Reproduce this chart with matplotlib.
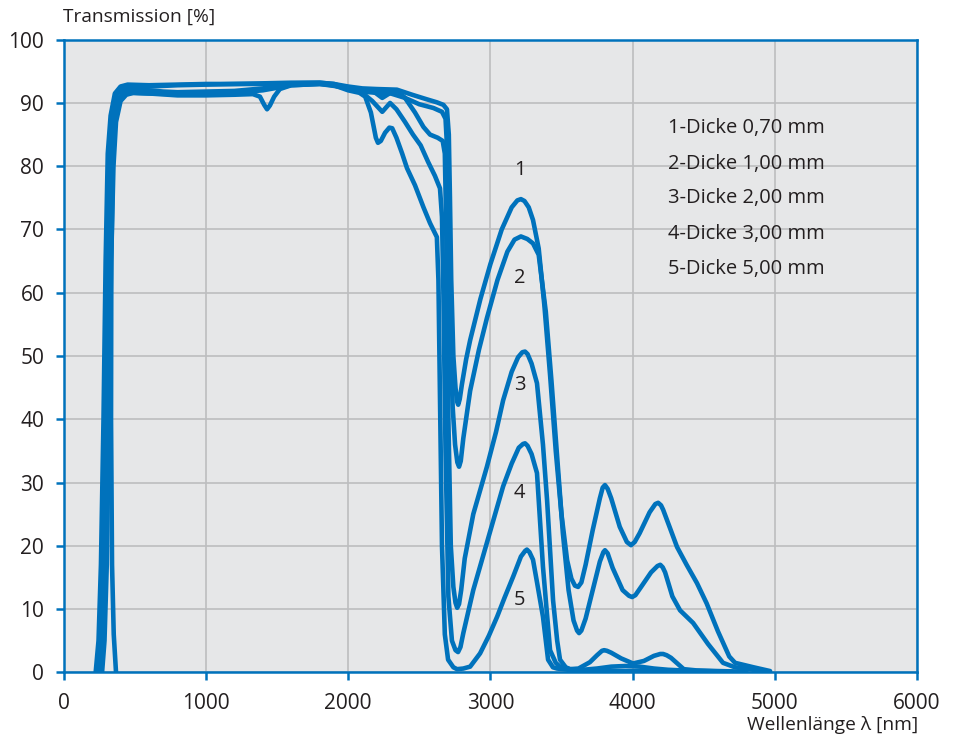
import numpy as np
import matplotlib.pyplot as plt

# --------------------------------------------------
# Transmission curves (wavelength in nm, T in %)
# --------------------------------------------------

WL_1 = [225, 245, 262, 280, 295, 310, 330, 360, 400, 450, 600, 800, 1000,
        1200, 1400, 1600, 1800, 1900, 2000, 2100, 2200, 2343, 2450, 2550,
        2624, 2670, 2695, 2708, 2716, 2725, 2740, 2755, 2766, 2774, 2785,
        2800, 2830, 2858, 2930, 3000, 3080, 3150, 3190, 3215, 3240, 3270,
        3300, 3340, 3380, 3420, 3460, 3500, 3540, 3570, 3595, 3617, 3640,
        3670, 3720, 3770, 3790, 3806, 3825, 3850, 3910, 3960, 3989, 4015,
        4050, 4120, 4160, 4180, 4200, 4215, 4260, 4313, 4380, 4453, 4521,
        4600, 4680, 4721, 4850, 4967]
T_1 = [0, 5, 17, 40, 65, 82, 88, 91.5, 92.6, 92.9, 92.8, 92.9, 93.0,
       93.0, 93.1, 93.2, 93.2, 93.0, 92.6, 92.3, 92.2, 92.1, 91.3, 90.6,
       90.1, 89.7, 89.0, 85, 75, 62, 50, 45, 42.8, 42.3, 43.2,
       45.5, 49.5, 52.5, 59, 64.5, 70, 73.5, 74.6, 74.8, 74.5, 73.5,
       71.5, 67, 58, 47, 35, 25, 17.7, 14.8, 13.7, 13.5, 14.2,
       17, 22.5, 27.5, 29.2, 29.6, 29.0, 27.5, 23, 20.6, 20.1, 20.6,
       22, 25.3, 26.6, 26.8, 26.4, 25.7, 23, 19.8, 17, 14.1, 10.9,
       6.5, 2.5, 1.5, 0.8, 0.2]

WL_2 = [240, 258, 275, 292, 308, 322, 340, 370, 410, 460, 600, 800, 1000,
        1200, 1400, 1600, 1800, 1900, 2000, 2100, 2200, 2300, 2400, 2500,
        2600, 2660, 2685, 2698, 2707, 2718, 2735, 2752, 2768, 2780, 2792,
        2810, 2858, 2920, 2976, 3050, 3120, 3170, 3215, 3260, 3300, 3340,
        3390, 3430, 3470, 3510, 3550, 3585, 3610, 3624, 3640, 3670, 3720,
        3770, 3795, 3806, 3825, 3860, 3930, 3975, 3997, 4020, 4060, 4130,
        4175, 4195, 4212, 4229, 4280, 4334, 4426, 4530, 4636, 4720, 4850,
        4960]
T_2 = [0, 5, 17, 40, 65, 82, 88, 91.2, 92.4, 92.7, 92.6, 92.8, 92.9,
       93.0, 93.0, 93.1, 93.2, 93.0, 92.3, 91.8, 91.6, 91.5, 90.8, 89.8,
       89.2, 88.6, 87.5, 82, 70, 55, 42, 36, 33.2, 32.5, 33.4,
       37, 44.5, 51, 56, 62, 66.5, 68.4, 68.9, 68.5, 67.8, 66,
       57, 46, 34, 22, 13, 8.2, 6.6, 6.2, 6.6, 8.5, 13,
       17.5, 19.0, 19.3, 18.8, 16.5, 13, 12.1, 11.9, 12.2, 13.5, 15.8,
       16.8, 17.0, 16.6, 15.8, 12, 9.8, 7.8, 4.5, 1.5, 0.8, 0.4,
       0.1]

WL_3 = [255, 272, 290, 305, 322, 338, 355, 385, 425, 480, 600, 700, 800,
        1000, 1200, 1400, 1600, 1800, 1900, 2000, 2100, 2180, 2240, 2290,
        2343, 2400, 2470, 2530, 2576, 2630, 2665, 2680, 2690, 2705, 2722,
        2740, 2755, 2767, 2780, 2795, 2820, 2880, 2976, 3040, 3090, 3150,
        3195, 3225, 3244, 3262, 3290, 3328, 3370, 3399, 3441, 3470, 3490,
        3530, 3560, 3620, 3700, 3750, 3785, 3800, 3820, 3850, 3920, 4003,
        4080, 4150, 4195, 4215, 4240, 4270, 4320, 4360, 4450, 4600, 4800]
T_3 = [0, 5, 17, 40, 65, 80, 87, 90.5, 91.9, 92.2, 92.0, 91.8, 91.7,
       91.8, 91.9, 92.3, 93.0, 93.1, 92.8, 92.3, 92.0, 91.8, 90.8, 91.5,
       92.0, 90.8, 88.5, 86.2, 85.0, 84.5, 84.0, 82, 70, 40, 20,
       13.5, 11, 10.2, 10.8, 13, 18, 25, 32.5, 38, 43, 47.5,
       49.8, 50.6, 50.7, 50.3, 48.8, 45.7, 36, 27.2, 11.4, 5, 2,
       0.8, 0.5, 0.6, 1.6, 2.7, 3.4, 3.5, 3.4, 3.1, 2.2, 1.4,
       1.8, 2.6, 2.9, 2.9, 2.7, 2.3, 1.3, 0.5, 0.3, 0.2, 0.1]

WL_4 = [270, 287, 303, 318, 334, 350, 368, 400, 440, 490, 600, 800, 1000,
        1200, 1400, 1600, 1800, 1900, 2000, 2100, 2170, 2240, 2295, 2340,
        2400, 2456, 2510, 2562, 2610, 2646, 2660, 2670, 2685, 2705, 2730,
        2755, 2773, 2790, 2810, 2880, 2976, 3040, 3090, 3150, 3200, 3230,
        3244, 3262, 3290, 3328, 3370, 3420, 3460, 3490, 3560, 3650, 3750,
        3850, 3950, 4050, 4150, 4250, 4350, 4500, 4700]
T_4 = [0, 5, 17, 40, 65, 80, 87, 90.3, 91.3, 91.6, 91.5, 91.4, 91.5,
       91.6, 92.0, 92.8, 93.0, 92.7, 92.3, 91.6, 90.3, 88.6, 90.0, 89.0,
       87.0, 85.0, 83.3, 80.7, 78.5, 76.5, 72, 60, 35, 12, 5,
       3.5, 3.2, 4, 6.2, 13, 20.5, 25.5, 29.4, 33, 35.5, 36.1,
       36.2, 35.8, 34.5, 31.5, 16.7, 3.5, 1.5, 0.9, 0.5, 0.4, 0.6,
       0.9, 1.0, 0.9, 0.6, 0.4, 0.3, 0.2, 0.1]

WL_5 = [368, 352, 340, 333, 335, 345, 360, 385, 420, 480, 600, 800, 1000,
        1200, 1330, 1380, 1410, 1430, 1450, 1480, 1520, 1600, 1800, 1900,
        2000, 2080, 2120, 2160, 2195, 2210, 2230, 2260, 2290, 2310, 2340,
        2380, 2414, 2470, 2530, 2576, 2624, 2635, 2645, 2660, 2680, 2703,
        2740, 2766, 2810, 2858, 2928, 2990, 3048, 3100, 3160, 3215, 3245,
        3257, 3275, 3300, 3330, 3370, 3406, 3440, 3469, 3550, 3700, 3900,
        4100, 4300]
T_5 = [0, 6, 17, 40, 65, 80, 87, 90.5, 91.4, 91.6, 91.5, 91.2, 91.2,
       91.3, 91.4, 91.0, 89.7, 89.0, 89.6, 91.0, 92.2, 92.8, 93.0, 92.8,
       92.0, 91.6, 91.0, 88.5, 84.5, 83.7, 84.0, 85.3, 86.1, 86.0, 84.5,
       82, 79.7, 77, 73.5, 71, 68.8, 62, 45, 20, 6, 2,
       0.8, 0.5, 0.6, 0.9, 3, 5.8, 8.8, 11.8, 15.1, 18.3, 19.2,
       19.4, 19.0, 17.8, 14, 8.8, 2, 0.8, 0.6, 0.4, 0.3, 0.2,
       0.2, 0.1]

CURVES = [(WL_1, T_1), (WL_2, T_2), (WL_3, T_3), (WL_4, T_4), (WL_5, T_5)]

# curve numbers placed next to the IR peaks
NUM_LABELS = ["1", "2", "3", "4", "5"]
NUM_X = [3205, 3205, 3205, 3205, 3205]
NUM_Y = [79.4, 62.3, 45.4, 28.3, 11.4]

LEGEND_LINES = [
    "1-Dicke 0,70 mm",
    "2-Dicke 1,00 mm",
    "3-Dicke 2,00 mm",
    "4-Dicke 3,00 mm",
    "5-Dicke 5,00 mm",
]
LEGEND_X = 4250
LEGEND_Y = [86.0, 80.4, 74.9, 69.3, 63.8]

X_TICKS = [0, 1000, 2000, 3000, 4000, 5000, 6000]
Y_TICKS = [0, 10, 20, 30, 40, 50, 60, 70, 80, 90, 100]

# --------------------------------------------------
# Style
# --------------------------------------------------

BLUE = "#0072bc"
TEXT = "#231f20"
GRID = "#bcbdbf"
BG = "#e6e7e8"

plt.rcParams["font.family"] = ["Open Sans", "DejaVu Sans"]

fig = plt.figure(figsize=(9.59, 7.42), dpi=100)
ax = fig.add_axes([0.0664, 0.0939, 0.8898, 0.8526])
ax.set_facecolor(BG)

for wl, t in CURVES:
    ax.plot(
        wl,
        t,
        color=BLUE,
        linewidth=3.3,
        solid_joinstyle="round",
        solid_capstyle="round",
        zorder=3
    )

for lab, x, y in zip(NUM_LABELS, NUM_X, NUM_Y):
    ax.text(x, y, lab, fontsize=14.5, color=TEXT,
            ha="center", va="center", zorder=4)

for line, y in zip(LEGEND_LINES, LEGEND_Y):
    ax.text(LEGEND_X, y, line, fontsize=14.5, color=TEXT,
            ha="left", va="center", zorder=4)

ax.set_xlim(0, 6000)
ax.set_ylim(0, 100)
ax.set_xticks(X_TICKS)
ax.set_yticks(Y_TICKS)

ax.grid(True, color=GRID, linewidth=1.2, zorder=0)
ax.set_axisbelow(True)

for sp in ax.spines.values():
    sp.set_color(BLUE)
    sp.set_linewidth(1.8)

ax.tick_params(axis="y", length=6, width=1.8, color=BLUE,
               labelsize=15, labelcolor=TEXT, pad=8)
ax.tick_params(axis="x", length=6, width=1.8, color=BLUE,
               labelsize=15, labelcolor=TEXT, pad=9)

fig.text(63 / 959, 1 - 17 / 742, "Transmission [%]", fontsize=13.8,
         color=TEXT, ha="left", va="center")
fig.text(918 / 959, 1 - 725 / 742, "Wellenlänge λ [nm]", fontsize=13.8,
         color=TEXT, ha="right", va="center")

fig.savefig("out.png", dpi=100)
